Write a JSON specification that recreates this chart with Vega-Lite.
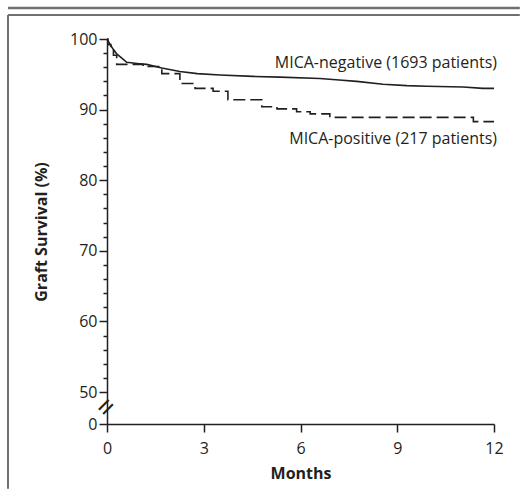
{
  "$schema": "https://vega.github.io/schema/vega-lite/v6.json",
  "width": 387,
  "height": 385,
  "autosize": "none",
  "padding": {"left": 107, "top": 39, "right": 26, "bottom": 65},
  "background": "white",
  "config": {
    "view": {"stroke": null},
    "font": "Open Sans",
    "axis": {
      "grid": false,
      "domainColor": "#231f20",
      "domainWidth": 1.5,
      "tickColor": "#231f20",
      "tickWidth": 1.5,
      "labelColor": "#231f20",
      "labelFontSize": 16,
      "labelFont": "Open Sans",
      "titleFont": "Open Sans",
      "titleFontSize": 16,
      "titleFontWeight": "bold",
      "titleColor": "#231f20",
      "labelOverlap": false,
      "labelBound": false,
      "labelFlush": false
    }
  },
  "datasets": {
    "curves": [
      {"group": "MICA-negative", "month": 0, "survival": 100},
      {"group": "MICA-negative", "month": 0.1, "survival": 99.2},
      {"group": "MICA-negative", "month": 0.2, "survival": 98.5},
      {"group": "MICA-negative", "month": 0.3, "survival": 97.9},
      {"group": "MICA-negative", "month": 0.46, "survival": 97.3},
      {"group": "MICA-negative", "month": 0.61, "survival": 96.7},
      {"group": "MICA-negative", "month": 1.0, "survival": 96.5},
      {"group": "MICA-negative", "month": 1.23, "survival": 96.4},
      {"group": "MICA-negative", "month": 1.7, "survival": 95.9},
      {"group": "MICA-negative", "month": 2.26, "survival": 95.4},
      {"group": "MICA-negative", "month": 2.8, "survival": 95.1},
      {"group": "MICA-negative", "month": 3.5, "survival": 94.9},
      {"group": "MICA-negative", "month": 4.53, "survival": 94.7},
      {"group": "MICA-negative", "month": 5.36, "survival": 94.6},
      {"group": "MICA-negative", "month": 6.6, "survival": 94.4},
      {"group": "MICA-negative", "month": 7.2, "survival": 94.2},
      {"group": "MICA-negative", "month": 7.74, "survival": 94.0},
      {"group": "MICA-negative", "month": 8.56, "survival": 93.6},
      {"group": "MICA-negative", "month": 9.3, "survival": 93.4},
      {"group": "MICA-negative", "month": 9.91, "survival": 93.3},
      {"group": "MICA-negative", "month": 11.04, "survival": 93.2},
      {"group": "MICA-negative", "month": 11.66, "survival": 93.0},
      {"group": "MICA-negative", "month": 12, "survival": 93.0},
      {"group": "MICA-positive", "month": 0, "survival": 100},
      {"group": "MICA-positive", "month": 0.03, "survival": 99.2},
      {"group": "MICA-positive", "month": 0.12, "survival": 98.4},
      {"group": "MICA-positive", "month": 0.2, "survival": 97.7},
      {"group": "MICA-positive", "month": 0.3, "survival": 96.4},
      {"group": "MICA-positive", "month": 1.12, "survival": 96.1},
      {"group": "MICA-positive", "month": 1.7, "survival": 95.1},
      {"group": "MICA-positive", "month": 2.26, "survival": 93.7},
      {"group": "MICA-positive", "month": 2.73, "survival": 93.0},
      {"group": "MICA-positive", "month": 3.29, "survival": 92.6},
      {"group": "MICA-positive", "month": 3.75, "survival": 91.4},
      {"group": "MICA-positive", "month": 4.8, "survival": 90.4},
      {"group": "MICA-positive", "month": 5.27, "survival": 90.1},
      {"group": "MICA-positive", "month": 5.88, "survival": 89.7},
      {"group": "MICA-positive", "month": 6.3, "survival": 89.4},
      {"group": "MICA-positive", "month": 6.91, "survival": 88.9},
      {"group": "MICA-positive", "month": 11.36, "survival": 88.3},
      {"group": "MICA-positive", "month": 12, "survival": 88.3}
    ]
  },
  "layer": [
    {
      "data": {"name": "curves"},
      "transform": [{"filter": "datum.group === 'MICA-negative'"}],
      "mark": {"type": "line", "color": "#231f20", "strokeWidth": 1.6},
      "encoding": {
        "x": {
          "field": "month", "type": "quantitative",
          "scale": {"domain": [0, 12], "nice": false, "zero": false},
          "axis": {"values": [0, 3, 6, 9, 12], "tickCount": 50, "format": "d", "title": "Months", "tickSize": 8, "labelPadding": 8, "titlePadding": 9}
        },
        "y": {
          "field": "survival", "type": "quantitative",
          "scale": {"domain": [0, 50, 100], "range": [385, 353, 0], "nice": false, "zero": false},
          "axis": {
            "values": [0, 50, 52, 54, 56, 58, 60, 62, 64, 66, 68, 70, 72, 74, 76, 78, 80, 82, 84, 86, 88, 90, 92, 94, 96, 98, 100],
            "tickCount": 100,
            "format": "d",
            "labelExpr": "datum.value % 10 === 0 ? datum.label : ''",
            "tickSize": {"condition": {"test": "datum.value % 10 === 0", "value": 8}, "value": 4},
            "labelPadding": 2,
            "title": "Graft Survival (%)",
            "titlePadding": 20
          }
        }
      }
    },
    {
      "data": {"name": "curves"},
      "transform": [{"filter": "datum.group === 'MICA-positive'"}],
      "mark": {"type": "line", "color": "#231f20", "strokeWidth": 1.6, "interpolate": "step-after", "strokeDash": [12, 5]},
      "encoding": {
        "x": {"field": "month", "type": "quantitative"},
        "y": {"field": "survival", "type": "quantitative"}
      }
    },
    {
      "data": {"values": [{}]},
      "mark": {"type": "rule", "color": "#707070", "strokeWidth": 2.5},
      "encoding": {
        "x": {"datum": -3.07, "type": "quantitative"},
        "x2": {"datum": 12.8},
        "y": {"datum": 104.4, "type": "quantitative"}
      }
    },
    {
      "data": {"values": [{}]},
      "mark": {"type": "rule", "color": "#707070", "strokeWidth": 1.8},
      "encoding": {
        "x": {"datum": -3.07, "type": "quantitative"},
        "x2": {"datum": 12.8},
        "y": {"datum": 103.4, "type": "quantitative"}
      }
    },
    {
      "data": {"values": [{}]},
      "mark": {"type": "rule", "color": "#707070", "strokeWidth": 2},
      "encoding": {
        "x": {"datum": -3.07, "type": "quantitative"},
        "y": {"datum": 103.4, "type": "quantitative"},
        "y2": {"datum": -101}
      }
    },
    {
      "data": {"values": [{}]},
      "mark": {"type": "text", "align": "right", "baseline": "middle", "dx": 3, "fontSize": 16, "color": "#231f20", "text": "MICA-negative (1693 patients)"},
      "encoding": {
        "x": {"datum": 12, "type": "quantitative"},
        "y": {"datum": 96.6, "type": "quantitative"}
      }
    },
    {
      "data": {"values": [{}]},
      "mark": {"type": "text", "align": "right", "baseline": "middle", "dx": 3, "fontSize": 16, "color": "#231f20", "text": "MICA-positive (217 patients)"},
      "encoding": {
        "x": {"datum": 12, "type": "quantitative"},
        "y": {"datum": 85.8, "type": "quantitative"}
      }
    },
    {
      "data": {"values": [{}]},
      "mark": {"type": "text", "align": "center", "baseline": "middle", "fontSize": 30, "angle": -45, "color": "#231f20", "text": "="},
      "encoding": {
        "x": {"datum": 0, "type": "quantitative"},
        "y": {"datum": 25, "type": "quantitative"}
      }
    }
  ]
}
